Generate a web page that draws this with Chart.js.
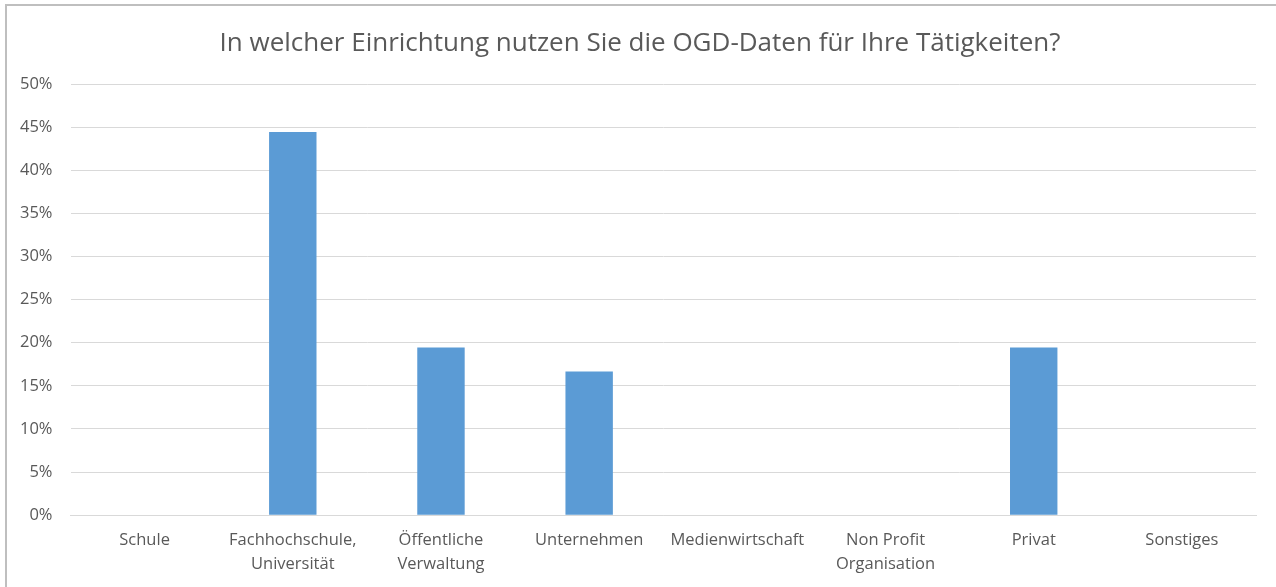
<!DOCTYPE html>
<html>
<head>
<meta charset="utf-8">
<script src="https://cdn.jsdelivr.net/npm/chart.js@4.4.1/dist/chart.umd.min.js"></script>
<style>
html,body{margin:0;padding:0;background:#fff;}
#wrap{position:relative;width:1276px;height:587px;overflow:hidden;}
#frame{position:absolute;left:5px;top:4px;width:1300px;height:700px;border-left:2px solid #bfbfbf;border-top:2px solid #bfbfbf;pointer-events:none;}
canvas{position:absolute;left:0;top:0;}
</style>
</head>
<body>
<div id="wrap">
<canvas id="c" width="1276" height="587"></canvas>
<div id="frame"></div>
</div>
<script>
// data
const categories = [
  'Schule',
  ['Fachhochschule,', 'Universität'],
  ['Öffentliche', 'Verwaltung'],
  'Unternehmen',
  'Medienwirtschaft',
  ['Non Profit', 'Organisation'],
  'Privat',
  'Sonstiges'
];
const shares = [0, 44.44, 19.44, 16.67, 0, 0, 19.44, 0];
const yTicks = [0, 5, 10, 15, 20, 25, 30, 35, 40, 45, 50];

const titleText = 'In welcher Einrichtung nutzen Sie die OGD-Daten für Ihre Tätigkeiten?';
const txt = '#595959';
const fam = '"Open Sans", sans-serif';

// original title sits centred on the whole frame, a bit right of chart.js' default
const titleShift = {
  id: 'titleShift',
  afterLayout(chart) {
    const t = chart.titleBlock;
    if (t) { t.left += 11; t.right += 11; }
  }
};

new Chart(document.getElementById('c'), {
  type: 'bar',
  data: {
    labels: categories,
    datasets: [{
      data: shares,
      backgroundColor: '#5b9bd5',
      borderWidth: 0,
      categoryPercentage: 1,
      barPercentage: 0.32
    }]
  },
  options: {
    responsive: false,
    animation: false,
    layout: { padding: { left: 2, right: 20, top: 28, bottom: -2 } },
    plugins: {
      legend: { display: false },
      tooltip: { enabled: false },
      title: {
        display: true,
        text: titleText,
        color: txt,
        font: { family: fam, size: 26, weight: 'normal' },
        padding: { top: 0, bottom: 25 }
      }
    },
    scales: {
      x: {
        grid: { display: false, drawTicks: false },
        border: { color: '#d9d9d9', width: 1 },
        ticks: {
          color: txt,
          font: { family: fam, size: 16.5, lineHeight: 1.45 },
          padding: 13,
          maxRotation: 0,
          autoSkip: false
        }
      },
      y: {
        min: 0,
        max: 50,
        afterBuildTicks: ax => { ax.ticks = yTicks.map(v => ({ value: v })); },
        grid: { color: '#d9d9d9', drawTicks: false },
        border: { display: false },
        ticks: {
          color: txt,
          font: { family: fam, size: 16.5 },
          padding: 18,
          callback: v => v + '%'
        }
      }
    }
  },
  plugins: [titleShift]
});
</script>
</body>
</html>
